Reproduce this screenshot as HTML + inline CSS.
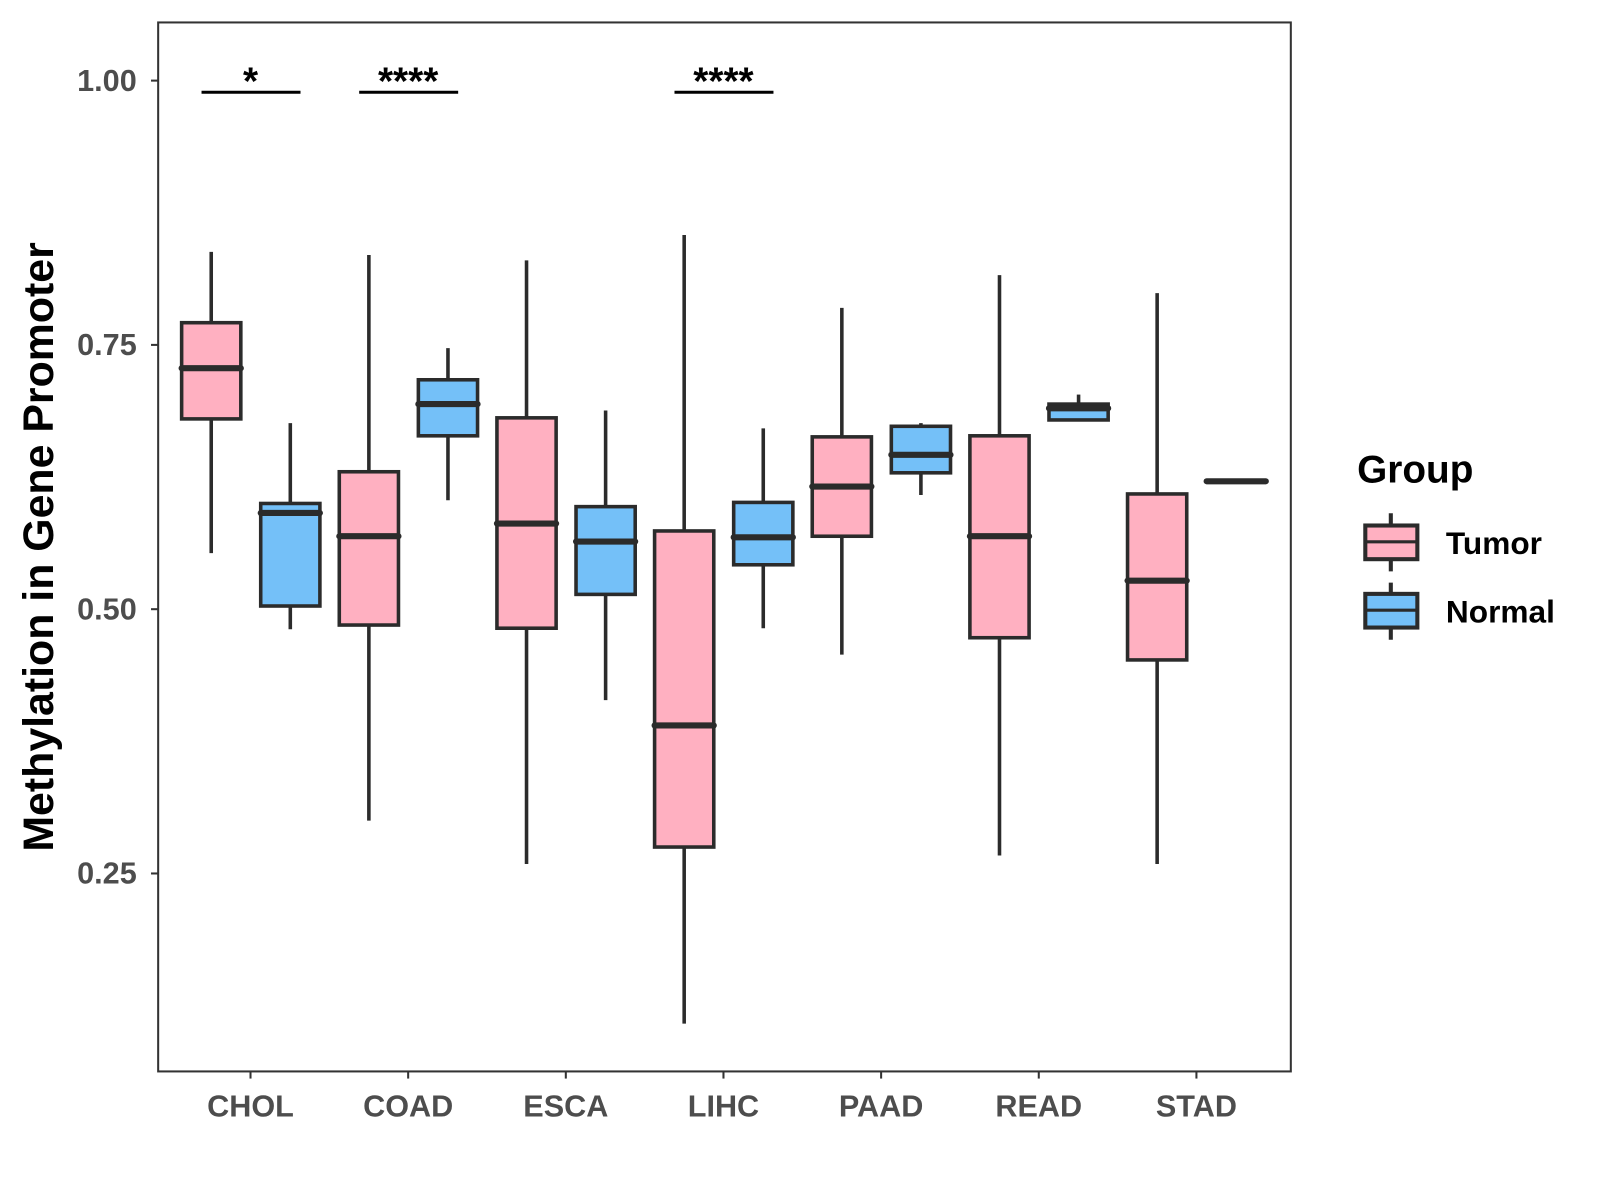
<!DOCTYPE html>
<html><head><meta charset="utf-8"><style>
html,body{margin:0;padding:0;background:#fff}
svg{display:block}
text{font-family:"Liberation Sans",Arial,sans-serif;font-weight:bold}
</style></head><body>
<svg id="chart" width="1600" height="1200" viewBox="0 0 1568 1176" preserveAspectRatio="none" xmlns="http://www.w3.org/2000/svg">
<rect x="155" y="22" width="1110" height="1028" fill="#fff" stroke="#333" stroke-width="2"/>
<g id="marks"></g>
<text x="52" y="536" font-size="42" text-anchor="middle" transform="rotate(-90 52 536)" fill="#000">Methylation in Gene Promoter</text>
<g>
<text x="1330" y="473" font-size="38" fill="#000">Group</text>
<g>
<line x1="1363" y1="503" x2="1363" y2="560" stroke="#2b2b2b" stroke-width="4"/>
<rect x="1338" y="515" width="51" height="33" fill="#FFB0C1" stroke="#2b2b2b" stroke-width="4"/>
<line x1="1338" y1="531" x2="1389" y2="531" stroke="#2b2b2b" stroke-width="3"/>
<text x="1417" y="543" font-size="31" fill="#000">Tumor</text>
</g>
<g>
<line x1="1363" y1="571" x2="1363" y2="627" stroke="#2b2b2b" stroke-width="4"/>
<rect x="1338" y="582" width="51" height="33" fill="#74C0F8" stroke="#2b2b2b" stroke-width="4"/>
<line x1="1338" y1="598" x2="1389" y2="598" stroke="#2b2b2b" stroke-width="3"/>
<text x="1417" y="610" font-size="31" fill="#000">Normal</text>
</g>
</g>
</svg>
<script>
const categories = ["CHOL","COAD","ESCA","LIHC","PAAD","READ","STAD"];
const tumorLow = [0.553,0.300,0.259,0.108,0.457,0.267,0.259];
const tumorQ1 = [0.680,0.485,0.482,0.275,0.569,0.473,0.452];
const tumorMed = [0.728,0.569,0.581,0.390,0.616,0.569,0.527];
const tumorQ3 = [0.771,0.630,0.681,0.574,0.663,0.664,0.609];
const tumorHigh = [0.838,0.835,0.830,0.854,0.785,0.816,0.799];
const normalLow = [0.481,0.603,0.414,0.482,0.608,0.679,0.621];
const normalQ1 = [0.503,0.664,0.514,0.542,0.629,0.679,0.621];
const normalMed = [0.591,0.694,0.564,0.568,0.646,0.690,0.621];
const normalQ3 = [0.600,0.717,0.597,0.601,0.673,0.694,0.621];
const normalHigh = [0.676,0.747,0.688,0.671,0.676,0.703,0.621];
const yTicks = [0.25,0.50,0.75,1.00];
const yTickLabels = ["0.25","0.50","0.75","1.00"];
const sigCategories = ["CHOL","COAD","LIHC"];
const sigLabels = ["*","****","****"];
const sigLevel = 0.989;

const NS="http://www.w3.org/2000/svg";
const g=document.getElementById('marks');
function y(v){return 597-(v-0.5)*1036;}
function x(i){return 245.5+i*154.5;}
function mk(tag,attrs,parent){const e=document.createElementNS(NS,tag);for(const k in attrs)e.setAttribute(k,attrs[k]);(parent||g).appendChild(e);return e;}
const C="#2b2b2b";
yTicks.forEach((t,i)=>{
  const l=mk('line',{x1:148,x2:155,y1:y(t),y2:y(t),stroke:'#333','stroke-width':2});
  
  
  const tx=mk('text',{x:134,y:y(t)+10,'font-size':30,'text-anchor':'end',fill:'#4d4d4d'});
  tx.textContent=yTickLabels[i];
  
  
});
categories.forEach((c,i)=>{
  const l=mk('line',{x1:x(i),x2:x(i),y1:1050,y2:1057,stroke:'#333','stroke-width':2});
  
  
  const tx=mk('text',{x:x(i),y:1094,'font-size':30,'text-anchor':'middle',fill:'#4d4d4d'});
  tx.textContent=c;
  
  
});
function box(cx,lo,q1,md,q3,hi,fill,name){
  const grp=mk('g',{});
  
  
  mk('line',{x1:cx,x2:cx,y1:y(hi),y2:y(lo),stroke:C,'stroke-width':3.5},grp);
  mk('rect',{x:cx-29,y:y(q3),width:58,height:Math.max(0,y(q1)-y(q3)),fill:fill,stroke:C,'stroke-width':3.5},grp);
  mk('line',{x1:cx-29,x2:cx+29,y1:y(md),y2:y(md),stroke:C,'stroke-width':6,'stroke-linecap':'round'},grp);
}
categories.forEach((c,i)=>{
  box(x(i)-38.5,tumorLow[i],tumorQ1[i],tumorMed[i],tumorQ3[i],tumorHigh[i],'#FFB0C1','box-tumor-'+c.toLowerCase());
  box(x(i)+39,normalLow[i],normalQ1[i],normalMed[i],normalQ3[i],normalHigh[i],'#74C0F8','box-normal-'+c.toLowerCase());
});
sigCategories.forEach((c,k)=>{
  const i=categories.indexOf(c);
  const l=mk('line',{x1:x(i)-48,x2:x(i)+49,y1:y(sigLevel),y2:y(sigLevel),stroke:'#000','stroke-width':3});
  
  
  const tx=mk('text',{x:x(i),y:y(sigLevel)+2,'font-size':38,'text-anchor':'middle',fill:'#000'});
  tx.textContent=sigLabels[k];
  
  
});
</script>
</body></html>
